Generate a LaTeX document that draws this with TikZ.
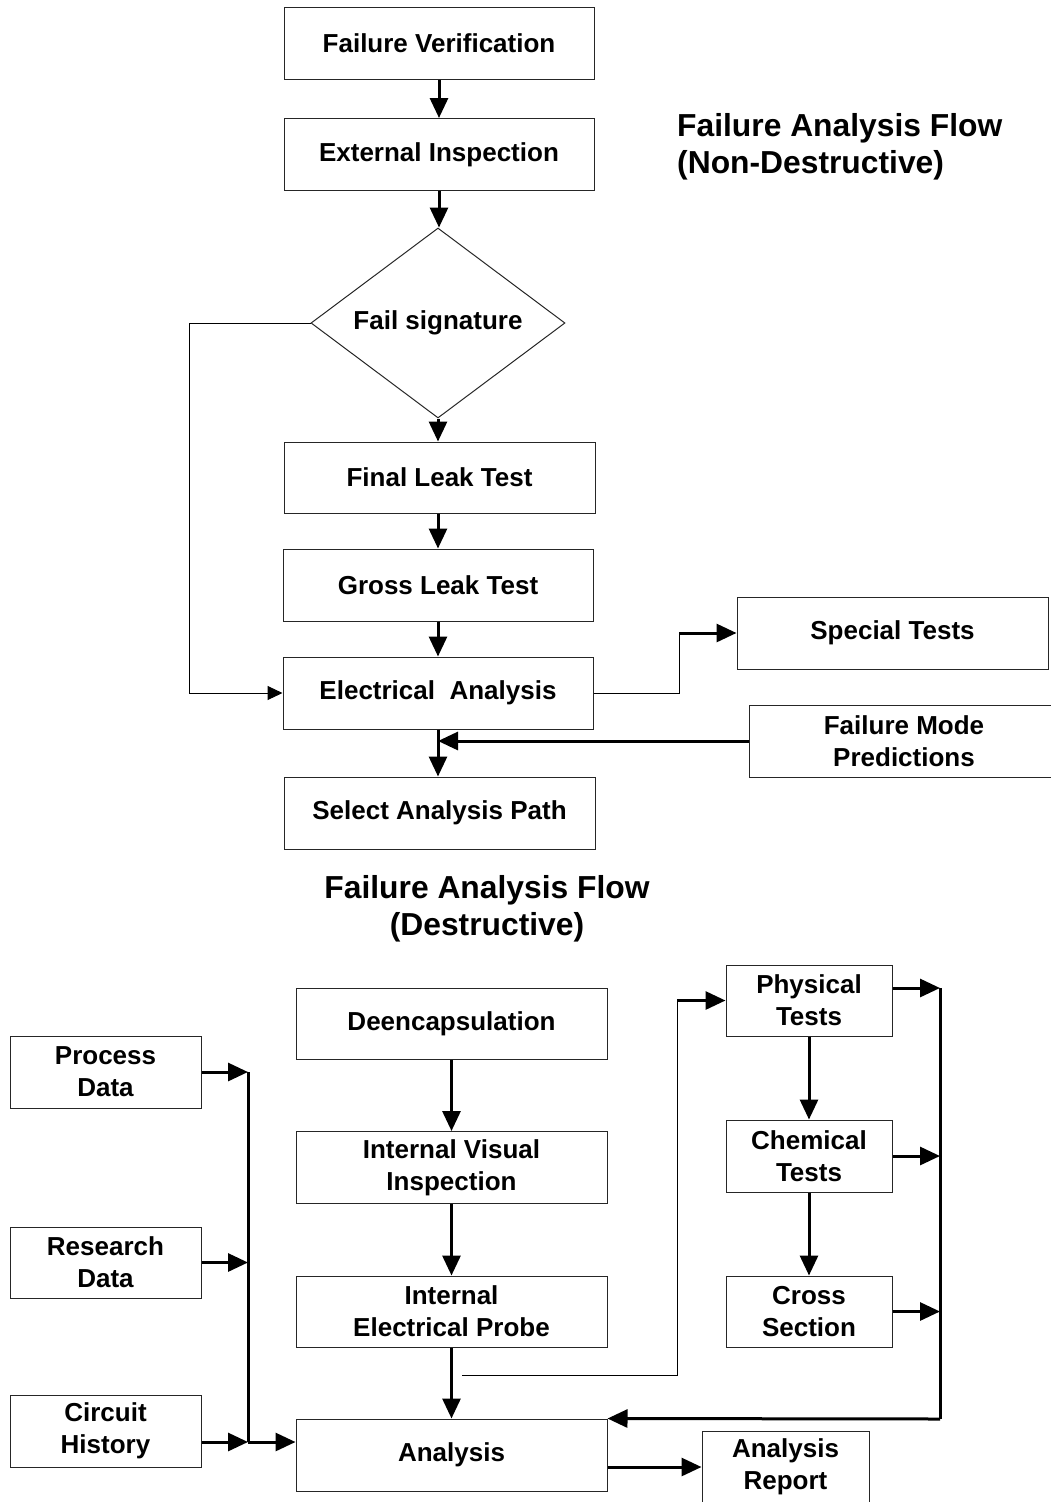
\documentclass[tikz,border=0pt]{standalone}
\usepackage{fontspec}
\setmainfont{Liberation Sans}
\usetikzlibrary{arrows.meta,shapes.geometric,calc}
\begin{document}
\begin{tikzpicture}[x=1pt,y=-1pt,
 box/.style={draw=black!85, line width=1pt, rectangle, inner sep=0pt, align=center, font=\fontsize{26}{32}\selectfont\bfseries},
 thk/.style={line width=3pt},
 thkarrow/.style={line width=3pt, -{Triangle[length=20pt,width=18pt]}},
 thn/.style={line width=1pt},
 thnarrow/.style={line width=1pt, -{Triangle[length=15pt,width=14pt]}},
 ttl/.style={inner sep=0pt, align=left, font=\fontsize{31.8}{37}\selectfont\bfseries}]
\useasboundingbox (0,0) rectangle (1050,1502);

% ---------- Non-destructive flow ----------
\node[box, minimum width=310pt, minimum height=72pt] (fv) at (439,43) {Failure Verification};
\node[box, minimum width=310pt, minimum height=72pt] (ei) at (439,154.5) {External Inspection};
\node[draw=black!85, line width=1pt, diamond, aspect=1.337, minimum width=254pt, minimum height=190pt, inner sep=0pt,
      font=\fontsize{26}{32}\selectfont\bfseries] (fs) at (438,323) {Fail signature};
\node[box, minimum width=311pt, minimum height=71pt] (flt) at (439.5,477.5) {Final Leak Test};
\node[box, minimum width=310pt, minimum height=72pt] (glt) at (438,585) {Gross Leak Test};
\node[box, minimum width=310pt, minimum height=72pt] (ea) at (438,693) {Electrical~ Analysis};
\node[box, minimum width=311pt, minimum height=72pt] (sap) at (439.5,813) {Select Analysis Path};
\node[box, minimum width=311pt, minimum height=72pt] (st) at (892.5,633) {Special Tests};
\node[box, minimum width=310pt, minimum height=72pt] (fmp) at (904,741) {Failure Mode\\Predictions};

\node[ttl, anchor=west] (t1) at (677,147) {Failure Analysis Flow\\(Non-Destructive)};

\draw[thkarrow] (fv.south) -- (fv.south |- ei.north);
\draw[thkarrow] (ei.south) -- (ei.south |- fs.north);
\draw[thkarrow] (fs.south) -- (fs.south |- flt.north);
\draw[thkarrow] (flt.south -| glt.north) -- (glt.north);
\draw[thkarrow] (glt.south) -- (ea.north);
\draw[thkarrow] (ea.south) -- (ea.south |- sap.north);
\draw[thkarrow] (fmp.west) -- (ea.south |- fmp.west);
\draw[thnarrow] (fs.west) -- ++(-121,0) |- (ea.west);
\coordinate (stj) at (679,633);
\draw[thn] (ea.east) -| (stj);
\draw[thkarrow] (stj) -- (st.west);

% ---------- Destructive flow ----------
\node[ttl, align=center] (t2) at (487,909) {Failure Analysis Flow\\(Destructive)};

\node[box, minimum width=191pt, minimum height=72pt] (pd) at (105.5,1072) {Process\\Data};
\node[box, minimum width=191pt, minimum height=71pt] (rd) at (105.5,1262.5) {Research\\Data};
\node[box, minimum width=191pt, minimum height=72pt] (ch) at (105.5,1431) {Circuit\\History};

\node[box, minimum width=311pt, minimum height=71pt] (dec) at (451.5,1023.5) {Deencapsulation};
\node[box, minimum width=311pt, minimum height=72pt] (ivi) at (451.5,1167.5) {Internal Visual\\Inspection};
\node[box, minimum width=311pt, minimum height=71pt] (iep) at (451.5,1311.5) {Internal\\Electrical Probe};
\node[box, minimum width=311pt, minimum height=72pt] (an) at (451.5,1455) {Analysis};

\node[box, minimum width=166pt, minimum height=71pt] (pt) at (809,1000.5) {Physical\\Tests};
\node[box, minimum width=166pt, minimum height=72pt] (ct) at (809,1156) {Chemical\\Tests};
\node[box, minimum width=166pt, minimum height=71pt] (cs) at (809,1311.5) {Cross\\Section};
\node[box, minimum width=167pt, minimum height=72pt] (ar) at (785.5,1467) {Analysis\\Report};

% left bus
\coordinate (lbt) at (248,1072);
\coordinate (lbb) at (248,1442);
\draw[thk] (lbt) -- (lbb);
\draw[thkarrow] (pd.east) -- (pd.east -| lbt);
\draw[thkarrow] (rd.east) -- (rd.east -| lbt);
\draw[thkarrow] (ch.east |- lbb) -- (lbb);
\draw[thkarrow] (lbb) -- (lbb -| an.west);

% center column
\draw[thkarrow] (dec.south) -- (ivi.north);
\draw[thkarrow] (ivi.south) -- (iep.north);
\draw[thkarrow] (iep.south) -- (an.north);
\draw[thkarrow] (an.east |- ar.west) -- (ar.west);

% route to physical tests
\coordinate (ps) at (462,1375);
\coordinate (pj) at (677,1000.5);
\draw[thn] (ps) -| (pj);
\draw[thkarrow] (pj) -- (pt.west);

% right column
\draw[thkarrow] (pt.south) -- (ct.north);
\draw[thkarrow] (ct.south) -- (cs.north);

% right bus
\coordinate (rbt) at (940,988);
\coordinate (rbb) at (940,1419);
\draw[thk] (rbt) -- (rbb);
\draw[thkarrow] (pt.east |- rbt) -- (rbt);
\draw[thkarrow] (ct.east) -- (ct.east -| rbt);
\draw[thkarrow] (cs.east) -- (cs.east -| rbt);
\draw[thkarrow] (rbb) -- (an.north east);
\end{tikzpicture}
\end{document}
